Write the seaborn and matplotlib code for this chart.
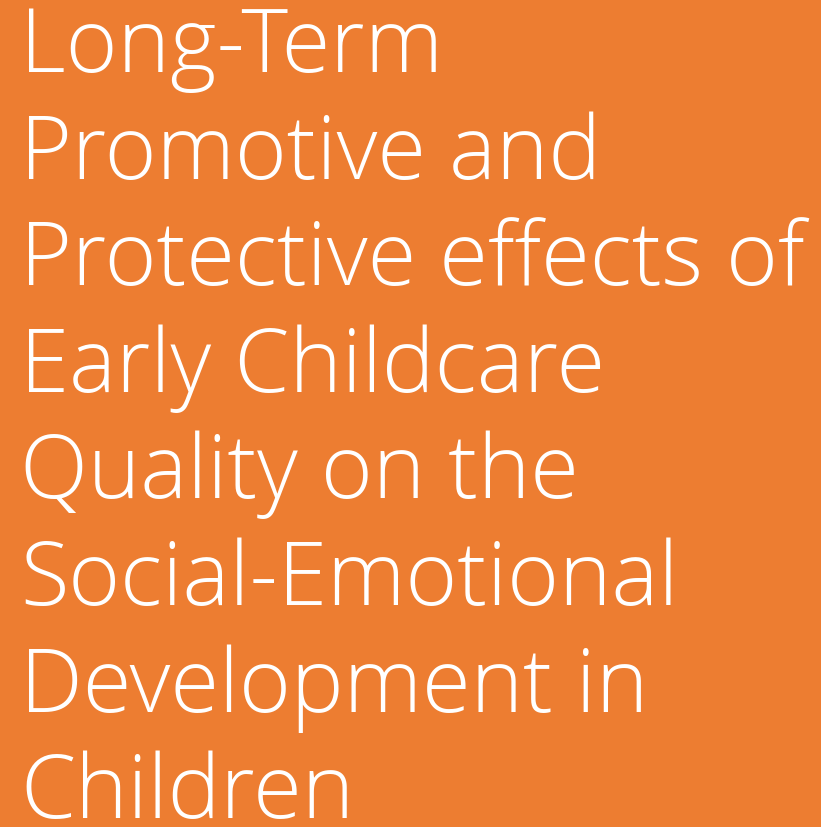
import matplotlib
matplotlib.use("Agg")
import matplotlib.pyplot as plt
import seaborn as sns

# Text content (title slide)
title_lines = [
    "Long-Term",
    "Promotive and",
    "Protective effects of",
    "Early Childcare",
    "Quality on the",
    "Social-Emotional",
    "Development in",
    "Children",
]

BG = "#ED7D31"
FG = "white"
W, H = 821, 827
DPI = 100

sns.set_theme(style="white")
plt.rcParams["font.family"] = ["Open Sans", "DejaVu Sans"]
WEIGHT = 300

fig = plt.figure(figsize=(W / DPI, H / DPI), dpi=DPI)
fig.patch.set_facecolor(BG)
ax = fig.add_axes([0, 0, 1, 1])
ax.set_facecolor(BG)
ax.set_xlim(0, W)
ax.set_ylim(H, 0)
ax.axis("off")

first_baseline = 72
line_step = 106.6
left = 20
target_width = 785  # longest line pixel width

fig.canvas.draw()
renderer = fig.canvas.get_renderer()
probe = ax.text(0, 0, max(title_lines, key=len), fontsize=50, fontweight=WEIGHT)
w50 = probe.get_window_extent(renderer).width
probe.remove()
size = 50 * target_width / w50

for i, line in enumerate(title_lines):
    ax.text(left, first_baseline + i * line_step, line, color=FG,
            fontsize=size, fontweight=WEIGHT, ha="left", va="baseline")

fig.savefig("out.png", dpi=DPI, facecolor=BG)
